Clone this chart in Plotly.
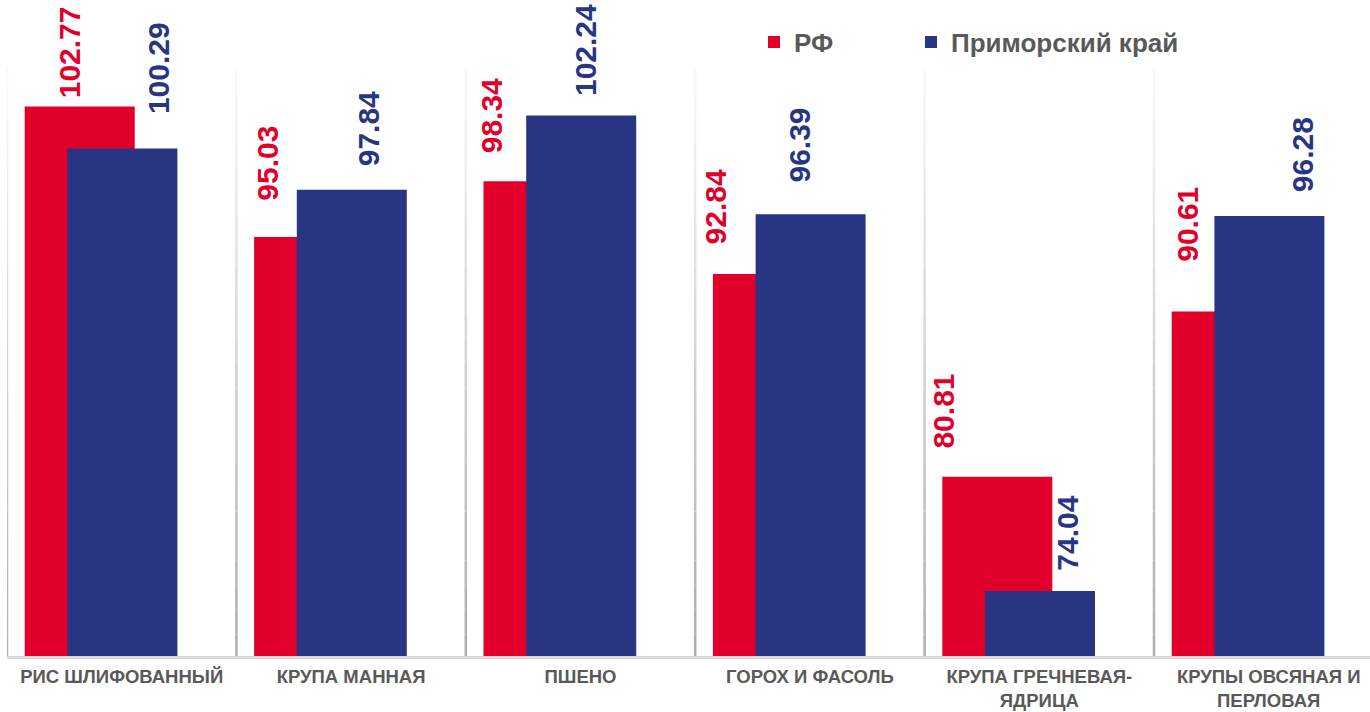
import plotly.graph_objects as go

# ---- data ----
CATEGORIES = [
    "РИС ШЛИФОВАННЫЙ",
    "КРУПА МАННАЯ",
    "ПШЕНО",
    "ГОРОХ И ФАСОЛЬ",
    "КРУПА ГРЕЧНЕВАЯ-<br>ЯДРИЦА",
    "КРУПЫ ОВСЯНАЯ И<br>ПЕРЛОВАЯ",
]
SERIES_RF_NAME = "РФ"
SERIES_PK_NAME = "Приморский край"
RF_VALUES = [102.77, 95.03, 98.34, 92.84, 80.81, 90.61]
PK_VALUES = [100.29, 97.84, 102.24, 96.39, 74.04, 96.28]

# ---- styling / layout ----
RED = "#E2002B"
BLUE = "#283582"
GREY_TEXT = "#595959"
FONT = "Liberation Sans"

# manual label nudges (px) as in the original chart
RF_LABEL_DX = [-52, -84, -89, -94, -96, -82]
RF_LABEL_DY = [7, 35, 27, 29, 27, 49]
PK_LABEL_DX = [37, 17, 5, -10, 28, 34]
PK_LABEL_DY = [33, 22, 18, 31, 19, 23]

W, H = 1370, 712
ML, MR, MT, MB = 7, 0, 69, 53
PX_PER_CAT = 229.4
PLOT_W = W - ML - MR
PLOT_H = H - MT - MB
x_max = -0.5 + PLOT_W / PX_PER_CAT
Y_RANGE = [70, 105]

fig = go.Figure()
fig.add_trace(go.Bar(
    x=CATEGORIES, y=RF_VALUES, name=SERIES_RF_NAME,
    marker=dict(color=RED, line=dict(width=0)),
    offset=-0.4228, width=0.4795, legend="legend",
))
fig.add_trace(go.Bar(
    x=CATEGORIES, y=PK_VALUES, name=SERIES_PK_NAME,
    marker=dict(color=BLUE, line=dict(width=0)),
    offset=-0.2367, width=0.4795, legend="legend2",
))

annotations = []
for vals, dxs, dys, col in [
    (RF_VALUES, RF_LABEL_DX, RF_LABEL_DY, RED),
    (PK_VALUES, PK_LABEL_DX, PK_LABEL_DY, BLUE),
]:
    for cat, v, dx, dy in zip(CATEGORIES, vals, dxs, dys):
        annotations.append(dict(
            x=cat, y=v, xref="x", yref="y",
            text=f"{v:.2f}", showarrow=False, textangle=-90,
            xanchor="center", yanchor="bottom",
            xshift=dx, yshift=dy, borderpad=0,
            font=dict(family=FONT, size=30, color=col, weight="bold"),
        ))

# category separators with a vertical fade (light at top, grey at bottom)
shapes = []
N_SEG = 24
top_c, bot_c = 250, 172
for b in range(len(CATEGORIES)):
    xb = b - 0.5
    for s in range(N_SEG):
        y0 = Y_RANGE[0] + (Y_RANGE[1] - Y_RANGE[0]) * s / N_SEG
        y1 = Y_RANGE[0] + (Y_RANGE[1] - Y_RANGE[0]) * (s + 1) / N_SEG
        t = (s + 0.5) / N_SEG
        c = int(round(bot_c + (top_c - bot_c) * t))
        shapes.append(dict(
            type="line", xref="x", yref="y", x0=xb, x1=xb, y0=y0, y1=y1,
            line=dict(color=f"rgb({c},{c},{c})", width=2.5), layer="below",
        ))

# thick light baseline drawn over the bar bottoms
shapes.append(dict(
    type="line", xref="paper", yref="y", x0=0, x1=1,
    y0=Y_RANGE[0], y1=Y_RANGE[0],
    line=dict(color="#d9d9d9", width=6), layer="above",
))

legend_font = dict(family=FONT, size=26, color=GREY_TEXT, weight="bold")
legend_y = 1 + (MT - 42) / PLOT_H

fig.update_layout(
    width=W, height=H,
    margin=dict(l=ML, r=MR, t=MT, b=MB, pad=0, autoexpand=False),
    paper_bgcolor="white", plot_bgcolor="white",
    barmode="overlay",
    showlegend=True,
    legend=dict(
        orientation="h", x=(754 - ML) / PLOT_W, xanchor="left",
        y=legend_y, yanchor="middle", font=legend_font,
        bgcolor="rgba(0,0,0,0)",
    ),
    legend2=dict(
        orientation="h", x=(911 - ML) / PLOT_W, xanchor="left",
        y=legend_y, yanchor="middle", font=legend_font,
        bgcolor="rgba(0,0,0,0)",
    ),
    xaxis=dict(
        type="category", range=[-0.5, x_max], automargin=False,
        ticks="", showgrid=False, showline=False,
        tickfont=dict(family=FONT, size=18.5, color=GREY_TEXT, weight="bold"),
        ticklabelstandoff=4,
    ),
    yaxis=dict(
        range=Y_RANGE, showgrid=False, zeroline=False, automargin=False,
        showticklabels=False, ticks="", showline=False,
    ),
    annotations=annotations,
    shapes=shapes,
)

fig.write_html(
    "out.html",
    config={"displayModeBar": False},
    post_script="document.body.style.margin='0px';document.body.style.padding='0px';",
)
